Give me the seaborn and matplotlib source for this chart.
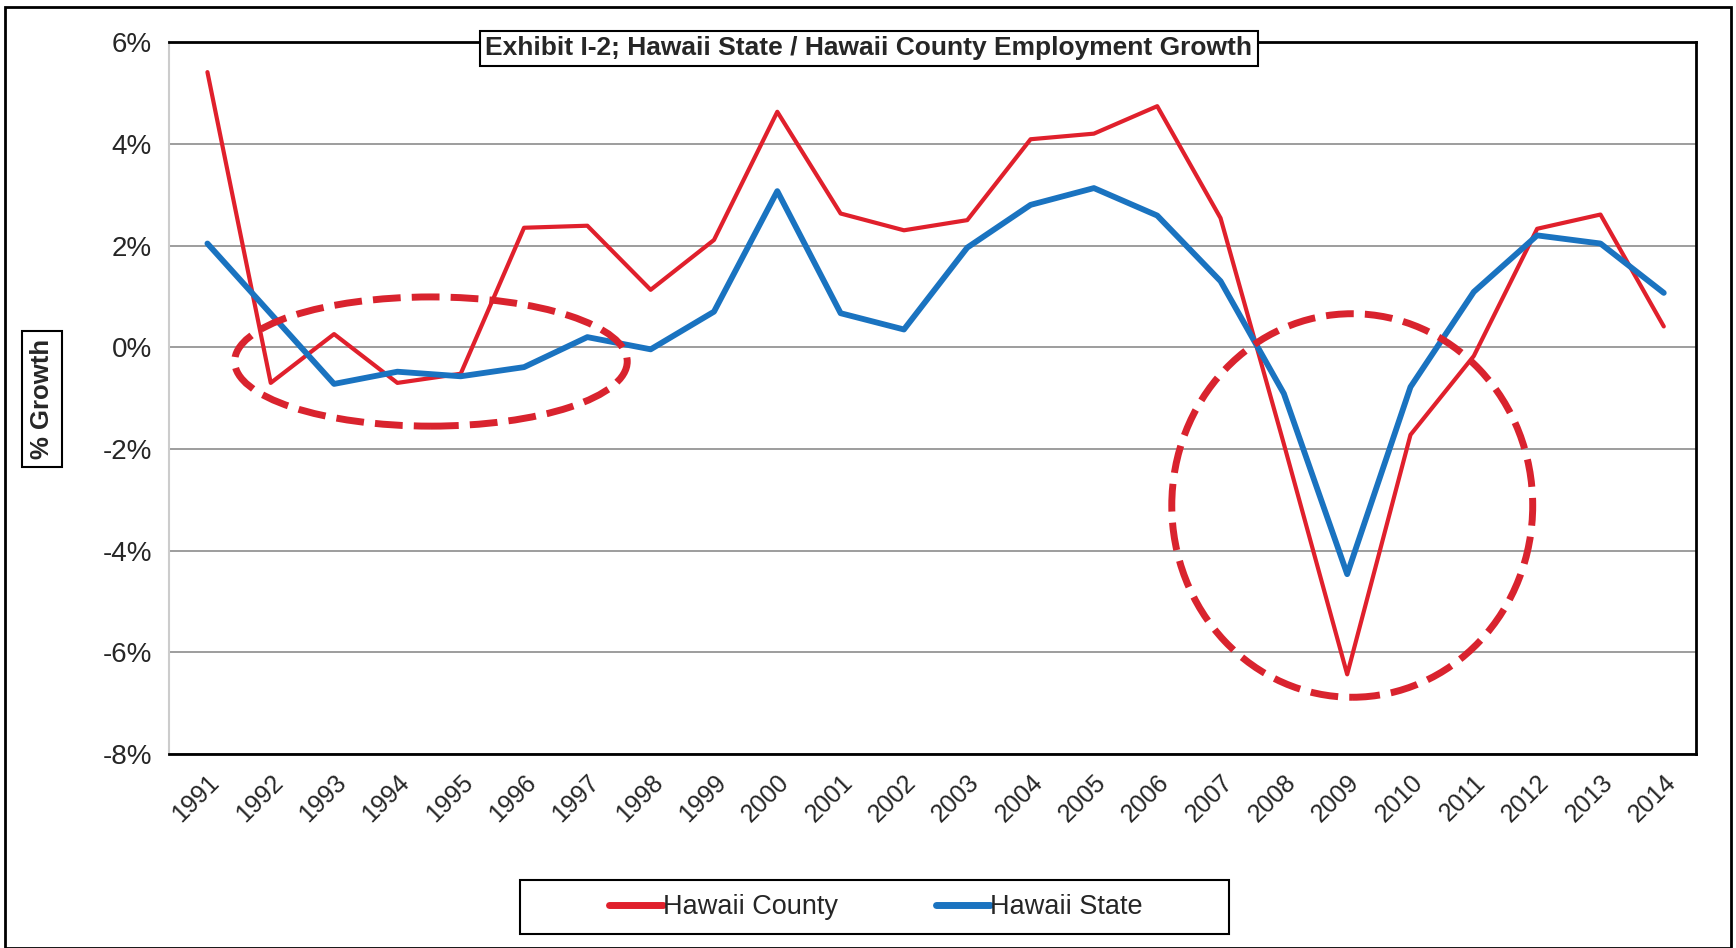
import numpy as np
import pandas as pd
import matplotlib
matplotlib.use("Agg")
import matplotlib.pyplot as plt
import seaborn as sns
from matplotlib.patches import Ellipse, Rectangle
from matplotlib.ticker import FuncFormatter

# Data (percent growth)
years = [str(y) for y in range(1991, 2015)]
hawaii_county = [5.41, -0.70, 0.26, -0.70, -0.52, 2.35, 2.39, 1.13, 2.11, 4.63,
                 2.63, 2.30, 2.50, 4.09, 4.20, 4.74, 2.54, -1.90, -6.43, -1.72,
                 -0.17, 2.33, 2.61, 0.41]
hawaii_state = [2.04, 0.66, -0.72, -0.48, -0.57, -0.39, 0.20, -0.04, 0.70, 3.07,
                0.67, 0.35, 1.96, 2.80, 3.13, 2.59, 1.30, -0.91, -4.46, -0.78,
                1.09, 2.20, 2.04, 1.07]
series_names = ["Hawaii County", "Hawaii State"]

df = pd.DataFrame({
    "Year": years * 2,
    "Growth": hawaii_county + hawaii_state,
    "Series": [series_names[0]] * len(years) + [series_names[1]] * len(years),
})
df["x"] = df["Year"].map({y: i for i, y in enumerate(years)})

sns.set_style("white")
plt.rcParams["font.family"] = ["Liberation Sans", "DejaVu Sans"]

red = "#e0202c"
blue = "#1a73c0"

fig = plt.figure(figsize=(17.36, 9.48), dpi=100)
ax = fig.add_axes([0.0976, 0.2044, 0.8794, 0.7512])

sns.lineplot(data=df, x="x", y="Growth", hue="Series", palette=[red, blue],
             linewidth=3.2, ax=ax, legend=False, sort=False)
for ln, w in zip(ax.lines, [3.0, 4.2]):
    ln.set_linewidth(w)

# Axes
ax.set_xlim(-0.6, 23.51)
ax.set_ylim(-8, 6)
ax.set_yticks(np.arange(-8, 7, 2))
ax.yaxis.set_major_formatter(FuncFormatter(lambda v, p: f"{v:.0f}%"))
ax.set_xticks(range(len(years)))
ax.set_xticklabels(years, rotation=45, ha="right", rotation_mode="anchor")
ax.tick_params(axis="x", labelsize=18, pad=8)
ax.tick_params(axis="y", labelsize=20, pad=9)
ax.set_xlabel("")
ax.set_ylabel("")
ax.grid(axis="y", color="#8c8c8c", linewidth=1.2)
ax.set_axisbelow(True)
for side in ["top", "right", "bottom"]:
    ax.spines[side].set_color("black")
    ax.spines[side].set_linewidth(2)
ax.spines["left"].set_color("#cccccc")
ax.spines["left"].set_linewidth(1.5)

# Dashed highlight circles
for cx, cy, w, h in [(3.53, -0.28, 6.2, 2.54), (18.08, -3.11, 5.7, 7.54)]:
    ax.add_patch(Ellipse((cx, cy), w, h, fill=False, edgecolor="#d9232e",
                         linewidth=5, linestyle=(0, (4.0, 1.6)), zorder=5))

# Title box
fig.text(0.5005, 0.949, "Exhibit I-2; Hawaii State / Hawaii County Employment Growth",
         ha="center", va="center", fontsize=19, fontweight="bold",
         bbox=dict(boxstyle="square,pad=0.22", facecolor="white", edgecolor="black", linewidth=1.5))

# Y label box
fig.text(0.0242, 0.579, "% Growth", rotation=90, ha="center", va="center",
         fontsize=18.5, fontweight="bold",
         bbox=dict(boxstyle="square,pad=0.3", facecolor="white", edgecolor="black", linewidth=1.5))

# Legend (frame drawn separately)
fig.patches.append(Rectangle((0.2997, 0.0152), 0.4082, 0.0561, transform=fig.transFigure,
                             facecolor="white", edgecolor="black", linewidth=1.5))
handles = [plt.Line2D([], [], color=red, linewidth=5),
           plt.Line2D([], [], color=blue, linewidth=5)]
leg = fig.legend(handles, series_names, loc="center", bbox_to_anchor=(0.5045, 0.043),
                 ncol=2, frameon=False, prop={"size": 19.5},
                 handlelength=2.0, handletextpad=0.0, columnspacing=3.6)

# Outer border
fig.patches.append(Rectangle((0.003, 0.0), 0.994, 0.993, transform=fig.transFigure,
                             fill=False, edgecolor="black", linewidth=2))

fig.savefig("out.png", dpi=100)
